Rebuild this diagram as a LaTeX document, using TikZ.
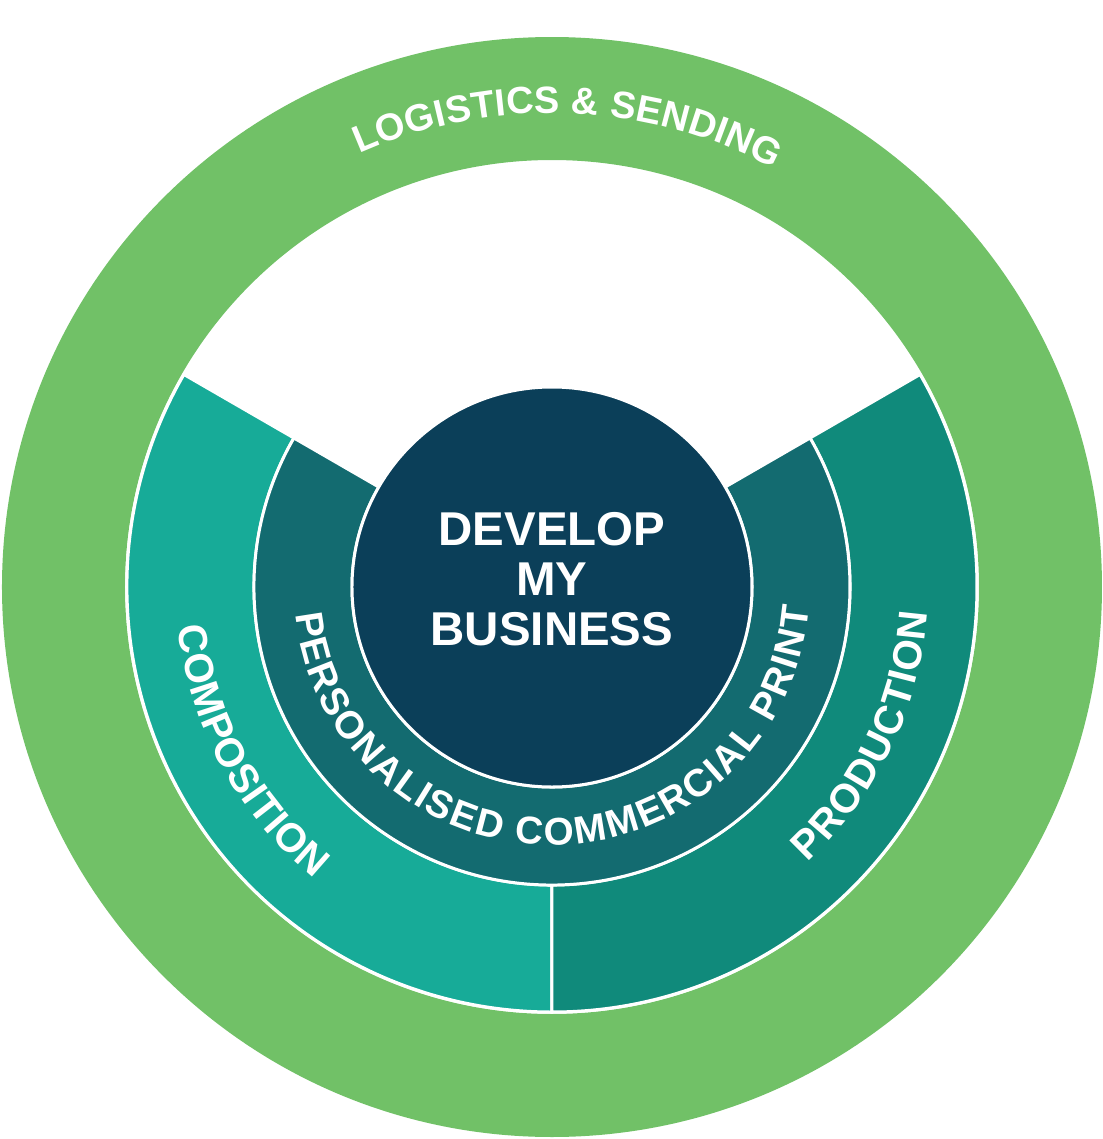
\documentclass[tikz,border=0pt]{standalone}
\usepackage{fontspec}
\setmainfont{Liberation Sans}
\definecolor{logigreen}{RGB}{113,193,103}
\definecolor{compteal}{RGB}{23,171,152}
\definecolor{prodteal}{RGB}{16,138,123}
\definecolor{printteal}{RGB}{19,107,112}
\definecolor{corenavy}{RGB}{11,63,89}
\newcommand\outerfont{\fontsize{10.8}{13}\selectfont\bfseries}
\newcommand\midfont{\fontsize{11.5}{13}\selectfont\bfseries}
\newcommand\innerfont{\fontsize{11}{13}\selectfont\bfseries}

% letters set one by one along a circle round (0,0)
% #1 name, #2 font, #3 radius, #4 centre angle, #5 sense (1 ccw, -1 cw),
% #6 extra space per letter, #7 letters
\newdimen\bendlen
\newdimen\bendpos
\newdimen\bendw
\newcommand\bendmeasure[2]{%
  \pgfinterruptpicture\setbox0\hbox{#1#2}\global\bendw=\wd0\endpgfinterruptpicture}
\newcommand\bendtext[7]{%
  \global\bendlen=0pt
  \foreach \ch in {#7}{%
    \bendmeasure{#2}{\ch}%
    \global\advance\bendlen by \bendw
    \global\advance\bendlen by #6}%
  \global\bendpos=-0.5\bendlen
  \foreach \ch [count=\k] in {#7}{%
    \bendmeasure{#2}{\ch}%
    \pgfmathsetmacro\bendang{#4+(#5)*(\bendpos+0.5*\bendw+0.5*#6)/(#3*28.4528)*180/pi}%
    \pgfmathsetmacro\bendrot{\bendang+(#5)*90}%
    \node[bendchar,font=#2,rotate=\bendrot] (#1\k) at (\bendang:#3) {\ch};
    \global\advance\bendpos by \bendw
    \global\advance\bendpos by #6}%
}

\begin{document}
\begin{tikzpicture}[
      sector/.style={draw=white,line width=0.85pt},
      bendchar/.style={text=white,inner sep=0pt,anchor=base},
      core/.style={circle,draw=white,line width=0.85pt,fill=corenavy,
                   minimum size=4cm,inner sep=0pt},
      goal/.style={text=white,align=center,inner sep=0pt,
                   font=\fontsize{13.5}{14.2}\selectfont\bfseries}
    ]
    \useasboundingbox (-5.52,-5.52) rectangle (5.51,5.87);

    % outer ring
    \fill[logigreen,even odd rule] (0,0) circle (5.5) (0,0) circle (4.27);
    \bendtext{logi}{\outerfont}{4.74}{88}{-1}{0.06pt}
      {L,O,G,I,S,T,I,C,S,\ ,\&,\ ,S,E,N,D,I,N,G}

    % composition / production
    \filldraw[sector,fill=compteal] (150:2.98) -- (150:4.25)
      arc[start angle=150,end angle=270,radius=4.25] -- (270:2.98)
      arc[start angle=270,end angle=150,radius=2.98] -- cycle;
    \filldraw[sector,fill=prodteal] (270:2.98) -- (270:4.25)
      arc[start angle=270,end angle=390,radius=4.25] -- (30:2.98)
      arc[start angle=390,end angle=270,radius=2.98] -- cycle;
    \bendtext{comp}{\midfont}{3.76}{208.5}{1}{0.2pt}
      {C,O,M,P,O,S,I,T,I,O,N}
    \bendtext{prod}{\midfont}{3.76}{-25.5}{1}{0.4pt}
      {P,R,O,D,U,C,T,I,O,N}

    % personalised print
    \filldraw[sector,fill=printteal] (150:2) -- (150:2.98)
      arc[start angle=150,end angle=390,radius=2.98] -- (30:2)
      arc[start angle=390,end angle=150,radius=2] -- cycle;
    \bendtext{pers}{\innerfont}{2.58}{270.75}{1}{0.55pt}
      {P,E,R,S,O,N,A,L,I,S,E,D,\ ,C,O,M,M,E,R,C,I,A,L,\ ,P,R,I,N,T}

    % centre
    \node[core] (hub) at (0,0) {};
    \node[goal] (aim) at (0,0.075) {DEVELOP\\MY\\BUSINESS};
  \end{tikzpicture}
\end{document}
